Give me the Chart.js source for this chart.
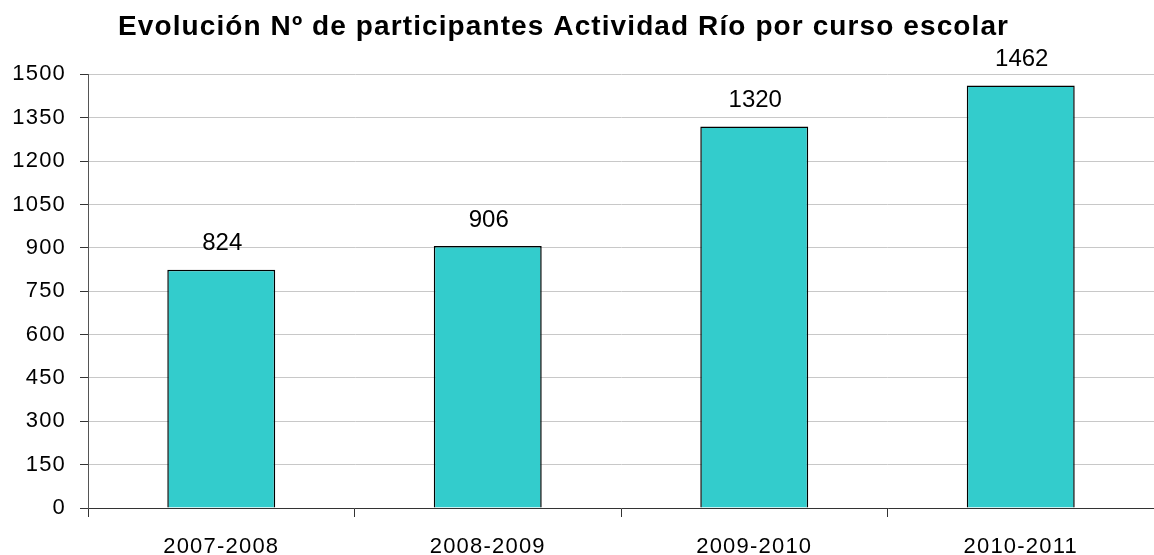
<!DOCTYPE html>
<html>
<head>
<meta charset="utf-8">
<script src="https://cdn.jsdelivr.net/npm/chart.js@4"></script>
<style>
  html, body { margin: 0; padding: 0; background: #fff; }
  .wrap { width: 1154px; height: 555px; }
</style>
</head>
<body>
<div class="wrap"><canvas class="chart"></canvas></div>
<script>
const cursos = ["2007-2008", "2008-2009", "2009-2010", "2010-2011"];
const participantes = [824, 906, 1320, 1462];
const yTicks = [0, 150, 300, 450, 600, 750, 900, 1050, 1200, 1350, 1500];
const titulo = "Evolución Nº de participantes Actividad Río por curso escolar";

const FONT = "'Liberation Sans', Arial, sans-serif";

// axis text in the original is a bit stretched, so widen it a little
const spacing = {
  id: "spacing",
  beforeDraw(chart) {
    chart.ctx.letterSpacing = "1.2px";
  },
};

// numbers above the bars + the title
const valueLabels = {
  id: "valueLabels",
  afterDraw(chart) {
    const ctx = chart.ctx;
    const meta = chart.getDatasetMeta(0);
    ctx.save();
    ctx.letterSpacing = "0px";
    ctx.font = "24px " + FONT;
    ctx.fillStyle = "#000";
    ctx.textAlign = "center";
    ctx.textBaseline = "alphabetic";
    meta.data.forEach(function (bar, i) {
      ctx.fillText(String(participantes[i]), bar.x + 1, bar.y - 19.5);
    });

    ctx.letterSpacing = "1.1px";
    ctx.font = "bold 28px " + FONT;
    ctx.textAlign = "left";
    ctx.fillText(titulo, 118, 35);
    ctx.restore();
  },
};

const chart = new Chart(document.querySelector(".chart"), {
  type: "bar",
  data: {
    labels: cursos,
    datasets: [
      {
        label: "Participantes",
        data: participantes,
        backgroundColor: "#33CCCC",
        borderColor: "#000",
        borderWidth: 1.5,
        categoryPercentage: 1,
        barPercentage: 0.405,
      },
    ],
  },
  options: {
    responsive: true,
    maintainAspectRatio: false,
    animation: false,
    layout: { padding: 0 },
    plugins: {
      legend: { display: false },
      tooltip: { enabled: false },
      // only reserves the space, text is drawn by valueLabels
      title: {
        display: true,
        text: titulo,
        color: "rgba(0,0,0,0)",
        font: { family: FONT, size: 22, weight: "bold" },
        padding: { top: 33, bottom: 15 },
      },
    },
    scales: {
      x: {
        afterFit(scale) { scale.height = 47; },
        grid: {
          display: true,
          drawOnChartArea: false,
          drawTicks: true,
          tickLength: 9,
          tickColor: "#333",
          offset: true,
        },
        border: { color: "#333", width: 1 },
        ticks: {
          color: "#000",
          padding: 17,
          font: { family: FONT, size: 22 },
        },
      },
      y: {
        min: 0,
        max: 1500,
        afterFit(scale) { scale.width = 88; },
        afterBuildTicks(scale) {
          scale.ticks = yTicks.map(function (v) { return { value: v }; });
        },
        grid: {
          color: "#c8c8c8",
          tickLength: 8,
          tickColor: "#333",
        },
        border: { color: "#555", width: 1 },
        ticks: {
          color: "#000",
          padding: 14,
          font: { family: FONT, size: 22 },
          callback: function (v) { return String(v); },
        },
      },
    },
  },
  plugins: [spacing, valueLabels],
});
</script>
</body>
</html>
